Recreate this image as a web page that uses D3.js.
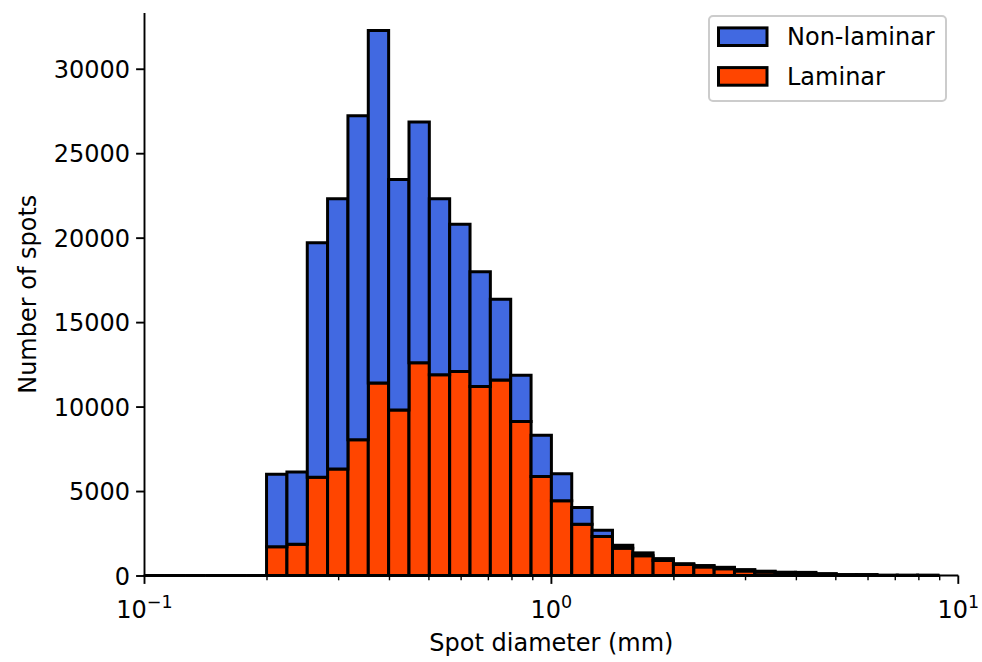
<!DOCTYPE html>
<html><head><meta charset="utf-8">
<script src="https://cdn.jsdelivr.net/npm/d3@7"></script>
<style>
body{margin:0;background:#fff}
svg{display:block}
text{font-family:"DejaVu Sans",sans-serif;fill:#000}
</style>
</head><body>
<svg id="chart" width="982" height="662"></svg>
<script>
// ---- data ----
const binEdges = [0.1, 0.1122, 0.1259, 0.1413, 0.1585, 0.1778, 0.1995, 0.2239, 0.2512, 0.2818,
  0.3162, 0.3548, 0.3981, 0.4467, 0.5012, 0.5623, 0.6310, 0.7079, 0.7943, 0.8913,
  1.0, 1.122, 1.259, 1.413, 1.585, 1.778, 1.995, 2.239, 2.512, 2.818,
  3.162, 3.548, 3.981, 4.467, 5.012, 5.623, 6.310, 7.079, 7.943, 8.913];
const laminar = [0, 0, 0, 0, 0, 0,
  1700, 1850, 5820, 6310, 8030, 11390, 9800, 12600, 11880, 12080,
  11190, 11580, 9110, 5860, 4420, 3040, 2310, 1620, 1170, 890,
  650, 510, 400, 270, 200, 150, 140, 80, 40, 40, 10, 10, 10];
const nonLaminar = [0, 0, 0, 0, 0, 0,
  4290, 4270, 13880, 15990, 19180, 20880, 13650, 14240, 10420, 8710,
  6790, 4770, 2750, 2450, 1600, 990, 370, 170, 170, 110,
  50, 80, 85, 80, 55, 45, 45, 30, 15, 15, 5, 5, 5];
const seriesKeys = ["laminar", "nonLaminar"];
const legendNames = ["Non-laminar", "Laminar"];
const colors = {laminar: "#FF4500", nonLaminar: "#4169E1"};
const yTicks = [0, 5000, 10000, 15000, 20000, 25000, 30000];
const xMajorTicks = [0.1, 1, 10];
const xMajorExp = ["−1", "0", "1"];
const xMinorTicks = [0.2, 0.3, 0.4, 0.5, 0.6, 0.7, 0.8, 0.9, 2, 3, 4, 5, 6, 7, 8, 9];
const xLabel = "Spot diameter (mm)";
const yLabel = "Number of spots";

// ---- layout ----
const L = 144.5, R = 958.3, T = 13, B = 575.5;
const svg = d3.select("#chart");
const x = d3.scaleLog().domain([0.1, 10]).range([L, R]);
const y = d3.scaleLinear().domain([0, 33300]).range([B, T]);

const rows = laminar.map((v, i) => ({laminar: v, nonLaminar: nonLaminar[i], x0: binEdges[i], x1: binEdges[i + 1]}));
const stacked = d3.stack().keys(seriesKeys)(rows);

const barsG = svg.append("g");
stacked.forEach(layer => {
  barsG.append("g").selectAll("path").data(layer).join("path")
    .attr("d", d => {
      const xa = x(d.data.x0), xb = x(d.data.x1), ya = y(d[0]), yb = y(d[1]);
      return `M${xa},${ya}H${xb}V${yb}H${xa}Z`;
    })
    .attr("fill", colors[layer.key])
    .attr("stroke", "#000")
    .attr("stroke-width", 3)
    .attr("stroke-linejoin", "miter");
});

// ---- axes ----
const yAxis = d3.axisLeft(y).tickValues(yTicks).tickSize(8.4).tickPadding(6).tickSizeOuter(0)
  .tickFormat(d3.format("d"));
const gy = svg.append("g").attr("transform", `translate(${L},0)`).call(yAxis);
gy.select(".domain").remove();
gy.selectAll(".tick line").attr("stroke", "#000").attr("stroke-width", 1.9);
gy.selectAll(".tick text").attr("font-size", 24).attr("font-family", "DejaVu Sans").attr("dy", "0.36em");

const gx = svg.append("g").attr("transform", `translate(0,${B})`);
gx.selectAll("line.minor").data(xMinorTicks).join("line").attr("class", "minor")
  .attr("x1", d => x(d)).attr("x2", d => x(d)).attr("y1", 0).attr("y2", 4.8)
  .attr("stroke", "#000").attr("stroke-width", 1.4);
gx.selectAll("line.major").data(xMajorTicks).join("line").attr("class", "major")
  .attr("x1", d => x(d)).attr("x2", d => x(d)).attr("y1", 0).attr("y2", 8.4)
  .attr("stroke", "#000").attr("stroke-width", 1.9);
const xt = gx.selectAll("text.tl").data(xMajorTicks).join("text").attr("class", "tl")
  .attr("x", d => x(d)).attr("y", 42).attr("text-anchor", "middle").attr("font-size", 24);
xt.append("tspan").text("10");
xt.append("tspan").attr("font-size", 17.5).attr("dy", -10).text((d, i) => xMajorExp[i]);

// spines
svg.append("line").attr("x1", L).attr("x2", L).attr("y1", T).attr("y2", B + 1)
  .attr("stroke", "#000").attr("stroke-width", 1.9);
svg.append("line").attr("x1", L - 1).attr("x2", R).attr("y1", B).attr("y2", B)
  .attr("stroke", "#000").attr("stroke-width", 1.9);

// labels
svg.append("text").attr("x", (L + R) / 2).attr("y", 651).attr("text-anchor", "middle")
  .attr("font-size", 24).text(xLabel);
svg.append("text").attr("transform", `translate(36,${(T + B) / 2}) rotate(-90)`)
  .attr("text-anchor", "middle").attr("font-size", 24).text(yLabel);

// ---- legend ----
const lg = svg.append("g");
lg.append("rect").attr("x", 709).attr("y", 16).attr("width", 237).attr("height", 85)
  .attr("rx", 4).attr("fill", "#fff").attr("fill-opacity", 0.8)
  .attr("stroke", "#cccccc").attr("stroke-width", 2);
const legendKeys = ["nonLaminar", "laminar"];
legendKeys.forEach((k, i) => {
  const cy = 36.7 + i * 39.7;
  lg.append("rect").attr("x", 718.5).attr("y", cy - 8.8).attr("width", 48.5).attr("height", 17.6)
    .attr("fill", colors[k]).attr("stroke", "#000").attr("stroke-width", 3);
  lg.append("text").attr("x", 787).attr("y", cy).attr("dy", "0.36em").attr("font-size", 24)
    .text(legendNames[i]);
});
</script>
</body></html>
